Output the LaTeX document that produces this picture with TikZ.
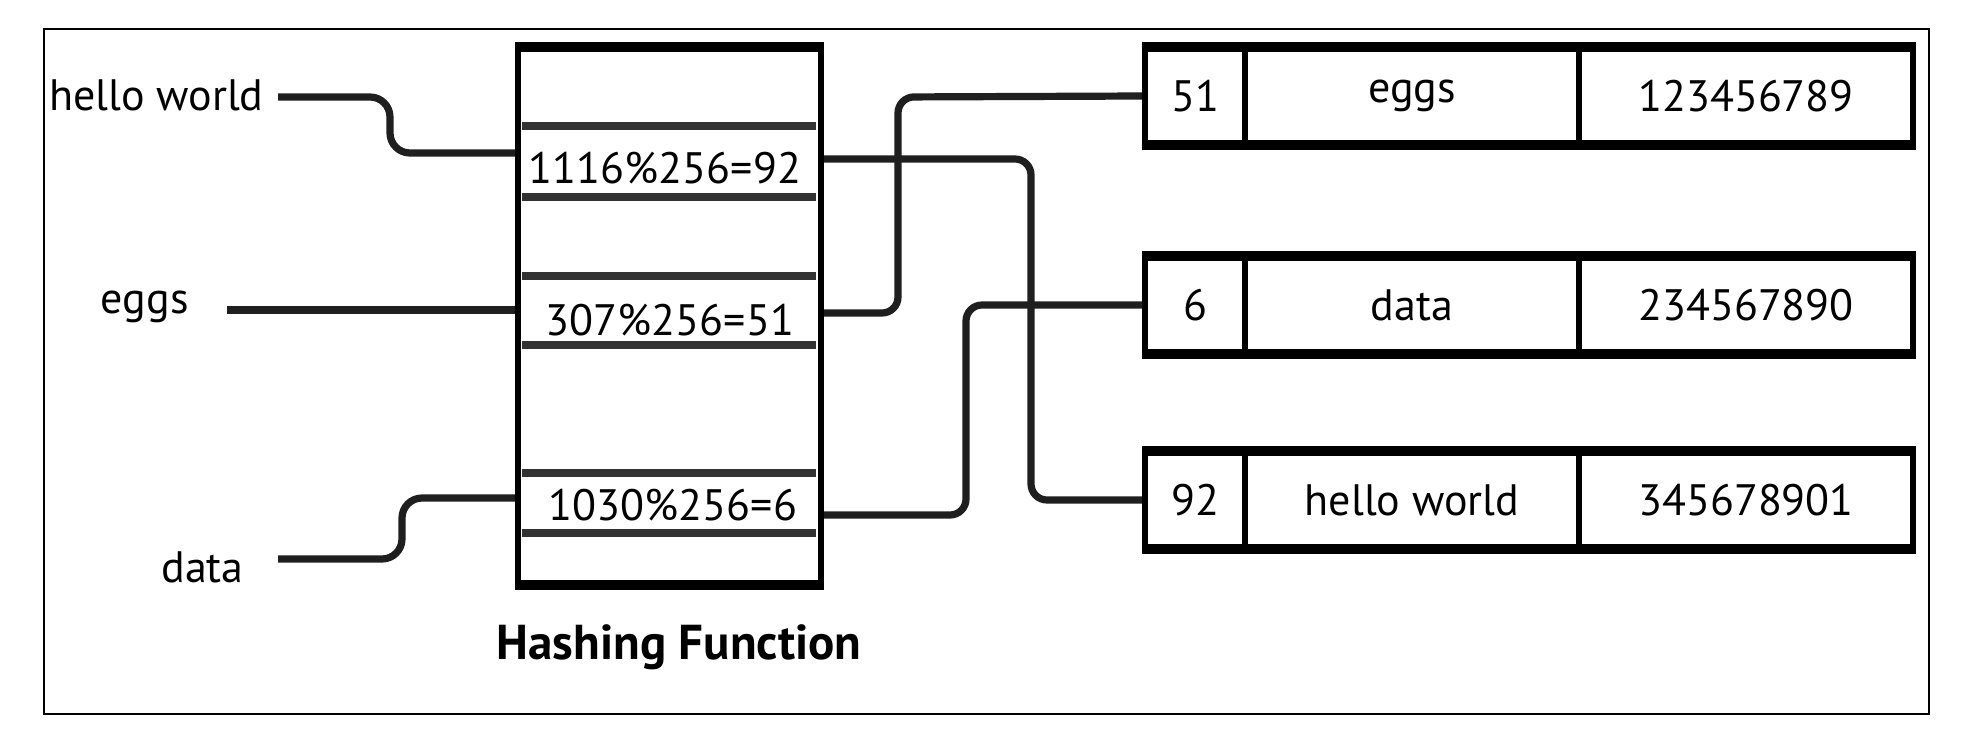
\documentclass[tikz,border=0pt]{standalone}
\usepackage{fontspec}
\setmainfont{PT Sans}
\begin{document}
\begin{tikzpicture}[x=0.5pt,y=-0.5pt,
  lbl/.style={font=\fontsize{22}{26}\selectfont, inner sep=0pt},
  conn/.style={line width=3.6pt, draw=black!88, rounded corners=8pt},
  sepline/.style={line width=3.6pt, draw=black!80},
  cell/.style={draw, line width=3pt, minimum height=47pt, inner sep=0pt, font=\fontsize{22}{26}\selectfont},
  thickedge/.style={line width=3.8pt},
]
\useasboundingbox (0,0) rectangle (1979,749);
\draw[line width=1.3pt] (44,29) rectangle (1929,714);

% hashing box
\node[draw, line width=3pt, minimum width=151.5pt, minimum height=267pt, inner sep=0pt] (hash) at (669.5,316) {};
\draw[thickedge] (hash.north west) -- (hash.north east);
\draw[thickedge] (hash.south west) -- (hash.south east);
\foreach \yy in {126,197,276,345,473,533} \draw[sepline] (522,\yy) -- (816,\yy);

\node[lbl] (h1) at (665,168) {1116\%256=92};
\node[lbl] (h2) at (670,320) {307\%256=51};
\node[lbl] (h3) at (673,505) {1030\%256=6};
\node[font=\bfseries\fontsize{24.5}{28}\selectfont, inner sep=0pt] (title) at (679,647) {Hashing Function};

% inputs
\node[lbl, anchor=east] (hw) at (264,95) {hello world};
\node[lbl, anchor=east] (eg) at (189,307) {eggs};
\node[lbl, anchor=east] (da) at (244,567) {data};

% table
\node[cell, minimum width=50pt] (t1) at (1195,96) {51};
\node[cell, minimum width=167pt] (k1) at (1412,96) {eggs};
\node[cell, minimum width=167pt] (v1) at (1746,96) {123456789};
\node[cell, minimum width=50pt] (t2) at (1195,305) {6};
\node[cell, minimum width=167pt] (k2) at (1412,305) {data};
\node[cell, minimum width=167pt] (v2) at (1746,305) {234567890};
\node[cell, minimum width=50pt] (t3) at (1195,500) {92};
\node[cell, minimum width=167pt] (k3) at (1412,500) {hello world};
\node[cell, minimum width=167pt] (v3) at (1746,500) {345678901};
\foreach \r in {1,2,3}{
  \draw[thickedge] (t\r.north west) -- (v\r.north east);
  \draw[thickedge] (t\r.south west) -- (v\r.south east);
}

% input connectors
\draw[conn, rounded corners=10pt] ([xshift=7pt,yshift=-1pt]hw.east) -- (390,97) -- (390,153) -- (hash.west |- 0,153);
\draw[conn] ([xshift=19pt,yshift=-1.5pt]eg.east) -- (hash.west |- 0,310);
\draw[conn, rounded corners=10pt] ([xshift=17pt,yshift=4pt]da.east) -- (402,559) -- (402,498) -- (hash.west |- 0,498);

% output connectors
\draw[conn] (hash.east |- 0,159) -- (1031,159) -- (1031,500) -- (t3.west);
\draw[conn] (hash.east |- 0,313) -- (898,313) -- (898,97) -- (t1.west);
\draw[conn] (hash.east |- 0,515) -- (966,515) -- (966,305) -- (t2.west);
\end{tikzpicture}
\end{document}
